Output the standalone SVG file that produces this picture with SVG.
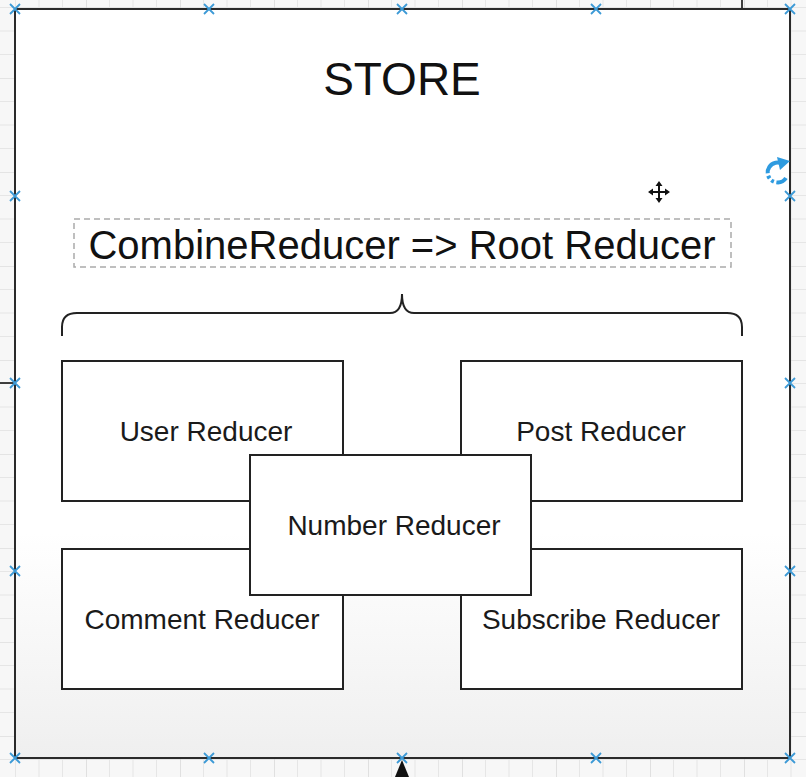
<svg xmlns="http://www.w3.org/2000/svg" width="806" height="777" viewBox="0 0 806 777">
<defs>
<pattern id="grid" x="-8" y="-16" width="94" height="94" patternUnits="userSpaceOnUse">
<rect width="94" height="94" fill="#f7f7f7"/>
<path d="M23.5,0V94M47,0V94M70.5,0V94M0,23.5H94M0,47H94M0,70.5H94" stroke="#e6e6e6" stroke-width="1" fill="none"/>
<path d="M0,0V94M0,0H94" stroke="#d2d2d2" stroke-width="1.2" fill="none"/>
</pattern>
<linearGradient id="storeFill" x1="0" y1="0" x2="0" y2="1">
<stop offset="0" stop-color="#ffffff"/>
<stop offset="0.7" stop-color="#ffffff"/>
<stop offset="1" stop-color="#efefef"/>
</linearGradient>
<g id="hx"><path d="M-5,-5L5,5M-5,5L5,-5" stroke="#3d9ad6" stroke-width="1.8"/></g>
</defs>
<style>
.box{fill:#ffffff;stroke:#222222;stroke-width:2}
.lbl{font-family:"Liberation Sans",Arial,Helvetica,sans-serif;font-size:28px;fill:#1a1a1a;text-anchor:middle}
.conn{stroke:#111111;stroke-width:1.6;fill:none}
</style>
<rect width="806" height="777" fill="url(#grid)"/>
<g id="connectors">
<path class="conn" d="M742,0V9"/>
<path class="conn" d="M0,383H15"/>
<path d="M402,760L395,777H409Z" fill="#111111"/>
</g>
<g id="store">
<rect x="15" y="9" width="775" height="749" fill="url(#storeFill)" stroke="#2a2a2a" stroke-width="2"/>
<text x="402" y="95" font-family="Liberation Sans,Arial,sans-serif" font-size="46" fill="#111111" text-anchor="middle">STORE</text>
</g>
<g id="root-reducer">
<rect x="74" y="219" width="657" height="48" fill="none" stroke="#aaaaaa" stroke-width="1.5" stroke-dasharray="6 4"/>
<text x="402" y="259" font-family="Liberation Sans,Arial,sans-serif" font-size="40" fill="#111111" text-anchor="middle">CombineReducer =&gt; Root Reducer</text>
</g>
<g id="brace">
<path d="M62,336V327Q62,313 77,313H390Q402,313 402,294Q402,313 414,313H727Q742,313 742,327V336" fill="none" stroke="#222222" stroke-width="2"/>
</g>
<g id="user-reducer">
<rect class="box" x="62" y="361" width="281" height="140"/>
<text class="lbl" x="206" y="441">User Reducer</text>
</g>
<g id="post-reducer">
<rect class="box" x="461" y="361" width="281" height="140"/>
<text class="lbl" x="601" y="441">Post Reducer</text>
</g>
<g id="comment-reducer">
<rect class="box" x="62" y="549" width="281" height="140"/>
<text class="lbl" x="202" y="629">Comment Reducer</text>
</g>
<g id="subscribe-reducer">
<rect class="box" x="461" y="549" width="281" height="140"/>
<text class="lbl" x="601" y="629">Subscribe Reducer</text>
</g>
<g id="number-reducer">
<rect class="box" x="250" y="455" width="281" height="140"/>
<text class="lbl" x="394" y="535">Number Reducer</text>
</g>
<g id="selection-handles">
<use href="#hx" x="15" y="9"/><use href="#hx" x="209" y="9"/><use href="#hx" x="402" y="9"/><use href="#hx" x="596" y="9"/><use href="#hx" x="790" y="9"/>
<use href="#hx" x="15" y="196"/><use href="#hx" x="790" y="196"/>
<use href="#hx" x="15" y="383"/><use href="#hx" x="790" y="383"/>
<use href="#hx" x="15" y="571"/><use href="#hx" x="790" y="571"/>
<use href="#hx" x="15" y="758"/><use href="#hx" x="209" y="758"/><use href="#hx" x="402" y="758"/><use href="#hx" x="596" y="758"/><use href="#hx" x="790" y="758"/>
</g>
<g id="rotate-handle">
<path d="M783,164A10,10 0 1 0 786,178" fill="none" stroke="#2e9be0" stroke-width="4" stroke-dasharray="22 2.5 3 2.5 3 2.5"/>
<path d="M777,157L790,161L780,170Z" fill="#2e9be0"/>
</g>
<g id="move-cursor" stroke="#111111" stroke-width="2">
<path d="M659,183V201M650,192H668"/>
<path d="M659,181L655.5,186H662.5ZM659,203L655.5,198H662.5ZM648,192L653,188.5V195.5ZM670,192L665,188.5V195.5Z" fill="#111111" stroke="none"/>
</g>
</svg>
